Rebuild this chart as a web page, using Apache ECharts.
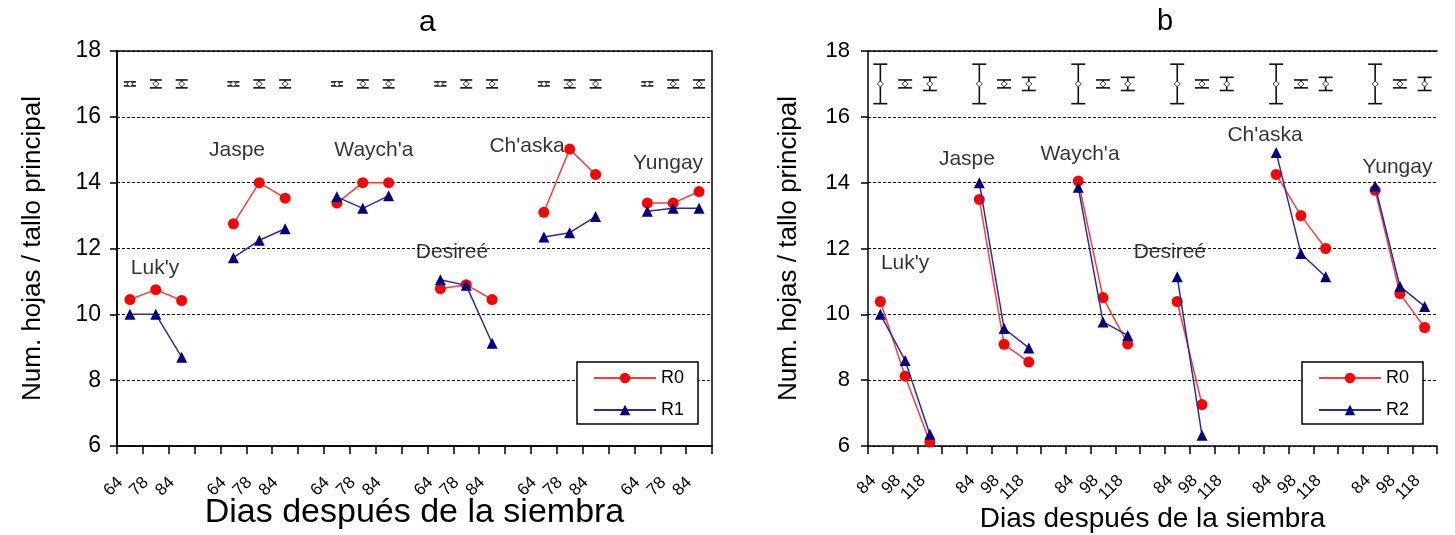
<!DOCTYPE html>
<html><head><meta charset="utf-8">
<script src="https://cdn.jsdelivr.net/npm/echarts@6/dist/echarts.min.js"></script>
<style>html,body{margin:0;padding:0;background:#fff}#c{width:1455px;height:535px}</style>
</head><body><div id="c"></div>
<script>
// ---------- data ----------
const cultivars = ["Luk'y", "Jaspe", "Waych'a", "Desireé", "Ch'aska", "Yungay"];
const daysA = ['64', '78', '84'];
const daysB = ['84', '98', '118'];
const yTicks = [6, 8, 10, 12, 14, 16, 18];
// panel a (R0 / R1), one inner list per cultivar, values per day
const aR0 = [[10.45, 10.75, 10.42], [12.75, 14.0, 13.53], [13.38, 14.0, 14.0], [10.78, 10.9, 10.45], [13.1, 15.02, 14.25], [13.38, 13.38, 13.73]];
const aR1 = [[10.0, 10.0, 8.7], [11.72, 12.25, 12.6], [13.57, 13.22, 13.6], [11.05, 10.88, 9.12], [12.35, 12.48, 12.97], [13.13, 13.22, 13.22]];
// panel b (R0 / R2)
const bR0 = [[10.39, 8.12, 6.12], [13.49, 9.09, 8.55], [14.05, 10.51, 9.1], [10.39, 7.26, null], [14.25, 13.0, 12.0], [13.77, 10.63, 9.6]];
const bR2 = [[10.0, 8.6, 6.36], [14.0, 9.57, 8.98], [13.86, 9.77, 9.36], [11.14, 6.33, null], [14.92, 11.85, 11.14], [13.9, 10.85, 10.24]];
// LSD-type error bars drawn at y = 17
const errMean = 17;
const errA = [0.06, 0.12, 0.12];
const errB = [0.6, 0.12, 0.2];
// cultivar name anchors (x in category units, y in axis units)
const annotA = [[1.47, 11.4], [4.64, 15.0], [9.93, 15.0], [12.95, 11.9], [15.85, 15.1], [21.3, 14.6]];
const annotB = [[1.5, 11.55], [4.0, 14.72], [8.57, 14.87], [12.2, 11.9], [16.05, 15.45], [21.4, 14.48]];

// ---------- helpers ----------
const FONT = 'Liberation Sans, Arial, sans-serif';
const NG = cultivars.length;
function buildCats(days) {
  const c = [];
  for (let g = 0; g < NG; g++) { days.forEach(d => c.push(d)); if (g < NG - 1) c.push(''); }
  return c;
}
function flat(groups) {
  const out = [];
  groups.forEach((grp, g) => { grp.forEach(v => out.push(v == null ? '-' : v)); if (g < NG - 1) out.push('-'); });
  return out;
}
function errData(halfs) {
  const out = [];
  for (let g = 0; g < NG; g++) halfs.forEach((h, j) => out.push([g * 4 + j, errMean, h]));
  return out;
}
function errRenderer(capHalf) {
  return function (params, api) {
    const x = api.value(0), m = api.value(1), h = api.value(2);
    const t = api.coord([x, m + h]), b = api.coord([x, m - h]), c = api.coord([x, m]);
    const st = { stroke: '#111', lineWidth: 1.6 };
    const d = 3;
    return {
      type: 'group', children: [
        { type: 'line', shape: { x1: t[0], y1: t[1], x2: b[0], y2: b[1] }, style: st },
        { type: 'line', shape: { x1: t[0] - capHalf, y1: t[1], x2: t[0] + capHalf, y2: t[1] }, style: st },
        { type: 'line', shape: { x1: b[0] - capHalf, y1: b[1], x2: b[0] + capHalf, y2: b[1] }, style: st },
        { type: 'polygon', shape: { points: [[c[0], c[1] - d], [c[0] + d, c[1]], [c[0], c[1] + d], [c[0] - d, c[1]]] }, style: { fill: '#fff', stroke: '#333', lineWidth: 1 } }
      ]
    };
  };
}
const catsA = buildCats(daysA), catsB = buildCats(daysB);
const NC = catsA.length;

function catAxis(gi, cats, fs, margin, padR) {
  return {
    type: 'category', gridIndex: gi, data: cats, boundaryGap: true,
    axisLine: { show: true, lineStyle: { color: '#000', width: 1.5 } },
    axisTick: { show: true, interval: 0, length: 8, lineStyle: { color: '#000', width: 1.5 } },
    axisLabel: { interval: 0, rotate: 45, fontSize: fs, color: '#000', fontFamily: FONT, margin: margin, padding: [0, padR, 0, 0] },
    splitLine: { show: false }
  };
}
function hiddenX(gi, showTop) {
  return {
    type: 'value', gridIndex: gi, min: 0, max: NC, position: 'top', show: showTop,
    axisLine: { show: true, onZero: false, lineStyle: { color: '#000', width: 1.5 } },
    axisTick: { show: false }, axisLabel: { show: false }, splitLine: { show: false }
  };
}
function yAx(gi, fs, nameFs, gap, margin) {
  return {
    type: 'value', gridIndex: gi, min: yTicks[0], max: yTicks[yTicks.length - 1], interval: 2,
    name: 'Num. hojas / tallo principal', nameLocation: 'middle', nameGap: gap, nameMoveOverlap: false,
    nameTextStyle: { fontSize: nameFs, color: '#000', fontFamily: FONT },
    axisLine: { show: true, lineStyle: { color: '#000', width: 1.5 } },
    axisTick: { show: true, length: 7, lineStyle: { color: '#000', width: 1.5 } },
    axisLabel: { fontSize: fs, color: '#000', fontFamily: FONT, margin: margin },
    splitLine: { show: true, lineStyle: { color: '#000', width: 1.2, type: [3, 2] } }
  };
}
function lineSeries(name, data, xi, yi, red) {
  return {
    name: name, type: 'line', xAxisIndex: xi, yAxisIndex: yi, data: data, connectNulls: false,
    symbol: red ? 'circle' : 'triangle', symbolSize: 11,
    lineStyle: { color: red ? '#ff3a3a' : '#2b2ba8', width: 1.5 },
    itemStyle: { color: red ? '#ff0000' : '#000080' },
    z: red ? 3 : 4, animation: false
  };
}
function annotSeries(pos, xi, yi, fs) {
  return {
    type: 'scatter', xAxisIndex: xi, yAxisIndex: yi, symbolSize: 0, silent: true, animation: false,
    data: pos.map((p, i) => ({ value: p, name: cultivars[i] })),
    label: { show: true, position: 'inside', formatter: '{b}', fontSize: fs, color: '#000', fontFamily: FONT }
  };
}
function legendBox(items, left, top) {
  return {
    data: items, orient: 'vertical', left: left, top: top,
    itemWidth: 62, itemHeight: 13, itemGap: 12,
    padding: [6, 14, 4, 16],
    borderColor: '#000', borderWidth: 1.5, backgroundColor: '#fff',
    textStyle: { fontSize: 18, color: '#000', fontFamily: FONT, lineHeight: 20 },
    selectedMode: false
  };
}

const chart = echarts.init(document.getElementById('c'));
chart.setOption({
  animation: false,
  backgroundColor: '#fff',
  textStyle: { fontFamily: FONT },
  graphic: [
    { type: 'text', left: 419, top: 8, style: { text: 'a', fontSize: 30, fontFamily: FONT, fill: '#000' } },
    { type: 'text', left: 1157, top: 7, style: { text: 'b', fontSize: 29, fontFamily: FONT, fill: '#000' } }
  ],
  grid: [
    { left: 117, right: 743, top: 51, bottom: 89, containLabel: false, outerBoundsMode: 'none', show: true, borderColor: '#000', borderWidth: 1.5, backgroundColor: 'transparent' },
    { left: 868, right: 18, top: 51, bottom: 89, containLabel: false, outerBoundsMode: 'none' }
  ],
  xAxis: [
    Object.assign(catAxis(0, catsA, 17, 24, 14), { name: 'Dias después de la siembra', nameLocation: 'middle', nameGap: 50, nameMoveOverlap: false, nameTextStyle: { fontSize: 34, color: '#000', fontFamily: FONT } }),
    hiddenX(0, false),
    Object.assign(catAxis(1, catsB, 17, 25, 10), { name: 'Dias después de la siembra', nameLocation: 'middle', nameGap: 59, nameMoveOverlap: false, nameTextStyle: { fontSize: 28, color: '#000', fontFamily: FONT } }),
    hiddenX(1, true)
  ],
  yAxis: [yAx(0, 23, 26, 71, 16), yAx(1, 22, 26, 66, 18)],
  legend: [legendBox(['R0', 'R1'], 577, 362), legendBox(['R0', 'R2'], 1302, 362)],
  series: [
    lineSeries('R0', flat(aR0), 0, 0, true),
    lineSeries('R1', flat(aR1), 0, 0, false),
    lineSeries('R0', flat(bR0), 2, 1, true),
    lineSeries('R2', flat(bR2), 2, 1, false),
    { type: 'custom', xAxisIndex: 0, yAxisIndex: 0, renderItem: errRenderer(6), data: errData(errA), silent: true, animation: false },
    { type: 'custom', xAxisIndex: 2, yAxisIndex: 1, renderItem: errRenderer(7), data: errData(errB), silent: true, animation: false },
    annotSeries(annotA, 1, 0, 21),
    annotSeries(annotB, 3, 1, 21)
  ]
});
</script></body></html>
